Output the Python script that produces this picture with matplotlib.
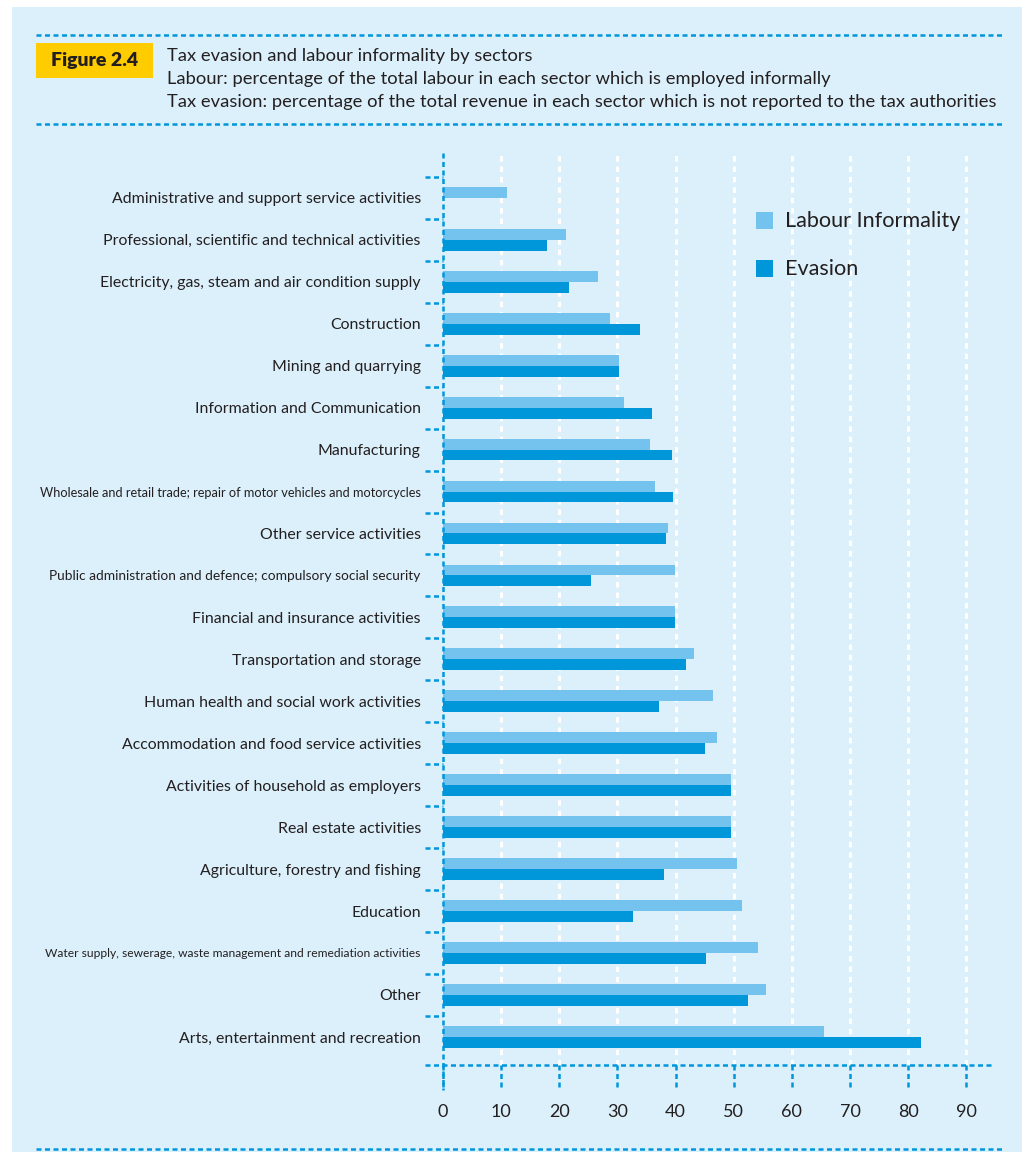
import matplotlib
matplotlib.use("Agg")
import matplotlib.pyplot as plt
from matplotlib.patches import Rectangle
from matplotlib.lines import Line2D
import numpy as np

sectors = [
    "Administrative and support service activities",
    "Professional, scientific and technical activities",
    "Electricity, gas, steam and air condition supply",
    "Construction",
    "Mining and quarrying",
    "Information and Communication",
    "Manufacturing",
    "Wholesale and retail trade; repair of motor vehicles and motorcycles",
    "Other service activities",
    "Public administration and defence; compulsory social security",
    "Financial and insurance activities",
    "Transportation and storage",
    "Human health and social work activities",
    "Accommodation and food service activities",
    "Activities of household as employers",
    "Real estate activities",
    "Agriculture, forestry and fishing",
    "Education",
    "Water supply, sewerage, waste management and remediation activities",
    "Other",
    "Arts, entertainment and recreation",
]
labour = [11.0, 21.2, 26.7, 28.7, 30.3, 31.2, 35.6, 36.5, 38.7, 39.9, 39.9,
          43.2, 46.5, 47.2, 49.6, 49.6, 50.6, 51.5, 54.2, 55.6, 65.6]
evasion = [0.0, 17.9, 21.7, 33.9, 30.3, 36.0, 39.4, 39.6, 38.4, 25.5, 39.9,
           41.8, 37.2, 45.1, 49.6, 49.6, 38.0, 32.7, 45.3, 52.5, 82.3]
xticks = [0, 10, 20, 30, 40, 50, 60, 70, 80, 90]
series_names = ["Labour Informality", "Evasion"]
title_lines = [
    "Tax evasion and labour informality by sectors",
    "Labour: percentage of the total labour in each sector which is employed informally",
    "Tax evasion: percentage of the total revenue in each sector which is not reported to the tax authorities",
]
fig_label = "Figure 2.4"

PANEL = "#dcf0fb"
LIGHT = "#74c3ee"
DARK = "#0096da"
BLUE = "#0096da"
TEXT = "#231f20"
YELLOW = "#ffcc00"
REG = ["Lato", "DejaVu Sans"]

W, H = 1022, 1152
fig = plt.figure(figsize=(W / 100, H / 100), dpi=100)
fig.patch.set_facecolor("white")

def fx(px):
    return px / W

def fy(py):
    return 1 - py / H

DOT = (0, (2, 1.4))
fig.add_artist(Rectangle((fx(12), 0), 1 - fx(12), fy(7), transform=fig.transFigure,
                         facecolor=PANEL, edgecolor="none", zorder=0))
for yy in (35, 124, 1149):
    fig.add_artist(Line2D([fx(36), fx(1003)], [fy(yy), fy(yy)], transform=fig.transFigure,
                          color=BLUE, lw=1.8, linestyle=DOT, zorder=1))

# Figure label box
fig.add_artist(Rectangle((fx(36), fy(78)), fx(153) - fx(36), fy(43) - fy(78),
                         transform=fig.transFigure, facecolor=YELLOW, edgecolor="none", zorder=1))
fig.text(fx(94.5), fy(60.5), fig_label, ha="center", va="center", fontsize=14,
         fontweight="heavy", color=TEXT, family=REG, zorder=2)
for i, line in enumerate(title_lines):
    fig.text(fx(167), fy(56 + 23 * i), line, ha="left", va="center", fontsize=13.2,
             color=TEXT, family=REG)

# Axes
ax = fig.add_axes([fx(425), fy(1065), (993 - 425) / W, (1065 - 153) / H])
ax.set_facecolor("none")
for s in ax.spines.values():
    s.set_visible(False)
X0, X1 = -3.1, 94.6
YB, YT = 20.67, -1.07
ax.set_xlim(X0, X1)
ax.set_ylim(YB, YT)

n = len(sectors)
y = np.arange(n)
ax.barh(y - 0.13, labour, height=0.26, color=LIGHT, zorder=2, label=series_names[0])
ax.barh(y + 0.13, evasion, height=0.26, color=DARK, zorder=2, label=series_names[1])

for t in xticks[1:]:
    ax.plot([t, t], [YB, YT], color="white", lw=2.2, linestyle=(0, (1.8, 1.6)), zorder=1)

kw = dict(color=BLUE, lw=1.8, linestyle=DOT, clip_on=False, zorder=3)
ax.plot([0, 0], [YT, 21.26], **kw)
ax.plot([X0, X1], [YB, YB], **kw)
for t in xticks:
    ax.plot([t, t], [YB, 21.26], **kw)
    ax.text(t, 21.79, str(t), ha="center", va="center", fontsize=13, color=TEXT,
            family=REG, clip_on=False)
for b in y - 0.5:
    ax.plot([X0, 0], [b, b], **kw)

ax.set_xticks([])
ax.set_yticks(y)
ax.set_yticklabels(sectors, family=REG, fontsize=11.4, color=TEXT)
ax.tick_params(axis="y", length=0, pad=3)
small = {7: 9.15, 9: 9.9, 18: 8.65}
for i, lab in enumerate(ax.get_yticklabels()):
    if i in small:
        lab.set_fontsize(small[i])

# Legend
for (top, col, name) in [(212, LIGHT, series_names[0]), (260, DARK, series_names[1])]:
    fig.add_artist(Rectangle((fx(756), fy(top + 17)), fx(773) - fx(756), fy(top) - fy(top + 17),
                             transform=fig.transFigure, facecolor=col, edgecolor="none", zorder=3))
    fig.text(fx(785), fy(top + 9), name, ha="left", va="center", fontsize=15.6,
             color=TEXT, family=REG)

fig.savefig("out.png", dpi=100, facecolor=fig.get_facecolor())
